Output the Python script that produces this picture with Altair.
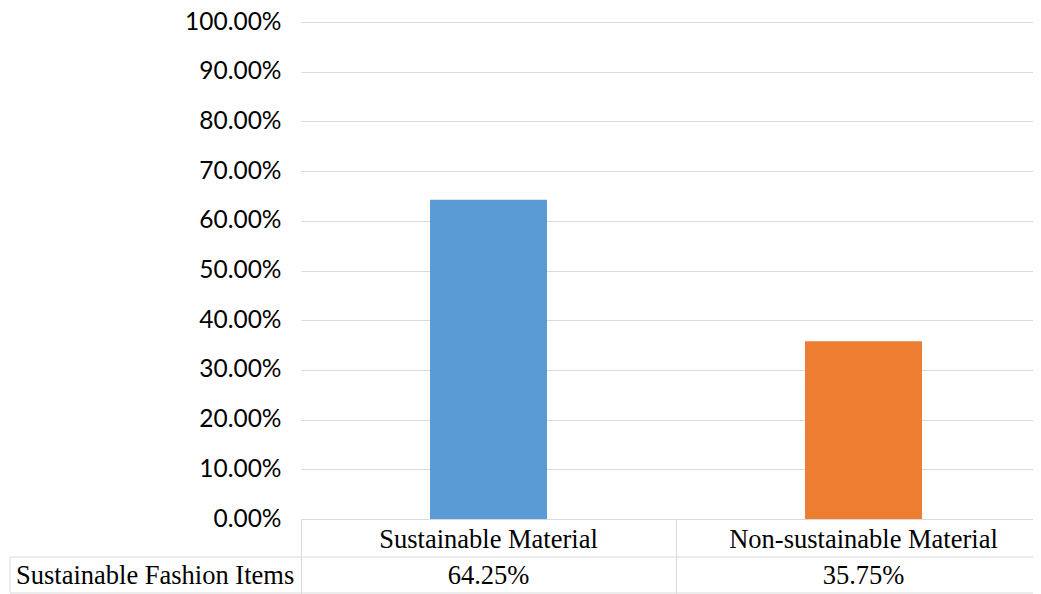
import altair as alt
import pandas as pd

categories = ["Sustainable Material", "Non-sustainable Material"]
values = [0.6425, 0.3575]
series_name = "Sustainable Fashion Items"
colors = ["#5B9BD5", "#ED7D31"]
y_ticks = [0, 0.1, 0.2, 0.3, 0.4, 0.5, 0.6, 0.7, 0.8, 0.9, 1.0]

df = pd.DataFrame({"category": categories, "value": values})
df["label"] = [f"{v*100:.2f}%" for v in values]

W, H = 732, 497
XR = 750
GRID = "#d9d9d9"
SERIF = "Liberation Serif"
FS = 26.5

x_scale = alt.Scale(paddingInner=0, paddingOuter=0, range=[0, XR])

x_enc = alt.X("category:N", sort=categories, scale=x_scale,
              axis=alt.Axis(title=None, labels=False, domain=False, ticks=True,
                            tickBand="extent", tickSize=75, tickColor=GRID,
                            tickWidth=1, grid=False))

bars = alt.Chart(df).mark_bar(width=117).encode(
    x=x_enc,
    y=alt.Y("value:Q", scale=alt.Scale(domain=[0, 1]),
            axis=alt.Axis(title=None, values=y_ticks, format=".2%", domain=False,
                          ticks=False, grid=True, gridColor=GRID, gridWidth=1,
                          labelFont="Lato", labelFontSize=24.5, labelColor="#000000",
                          labelPadding=20)),
    color=alt.Color("category:N", sort=categories,
                    scale=alt.Scale(domain=categories, range=colors), legend=None),
)

cat_text = alt.Chart(df).mark_text(font=SERIF, fontSize=FS, color="#000000",
                                   baseline="middle").encode(
    x=alt.X("category:N", sort=categories, scale=x_scale),
    y=alt.value(518),
    text="category:N",
)

val_text = alt.Chart(df).mark_text(font=SERIF, fontSize=FS, color="#000000",
                                   baseline="middle").encode(
    x=alt.X("category:N", sort=categories, scale=x_scale),
    y=alt.value(554),
    text="label:N",
)

series_df = pd.DataFrame({"name": [series_name]})
series_text = alt.Chart(series_df).mark_text(font=SERIF, fontSize=FS, color="#000000",
                                             baseline="middle", align="left").encode(
    x=alt.value(-285),
    y=alt.value(554),
    text="name:N",
)

line_mid = alt.Chart(series_df).mark_rule(color=GRID, strokeWidth=1).encode(
    x=alt.value(-291), x2=alt.value(XR), y=alt.value(535))
line_bot = alt.Chart(series_df).mark_rule(color=GRID, strokeWidth=1).encode(
    x=alt.value(-291), x2=alt.value(XR), y=alt.value(571))
line_left = alt.Chart(series_df).mark_rule(color=GRID, strokeWidth=1).encode(
    x=alt.value(-291), y=alt.value(535), y2=alt.value(571))

chart = alt.layer(bars, cat_text, val_text, series_text, line_mid, line_bot, line_left).properties(
    width=W, height=H,
    autosize=alt.AutoSizeParams(type="none"),
    padding={"left": 293, "top": 14, "right": 0, "bottom": 80},
).configure_view(stroke=None)

chart.save("out.html", embed_options={"renderer": "svg", "actions": False})
